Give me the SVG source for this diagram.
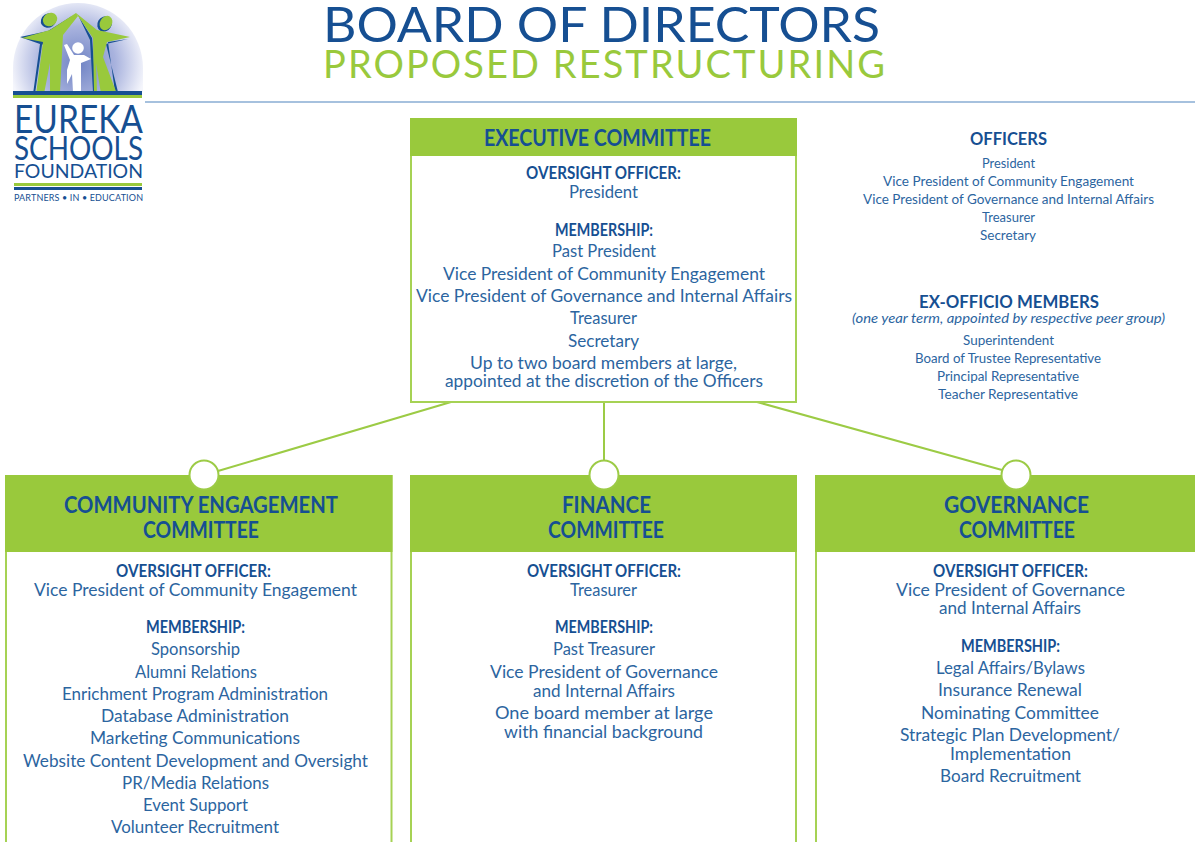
<svg xmlns="http://www.w3.org/2000/svg" width="1195" height="842" viewBox="0 0 1195 842">
<style>
text{font-family:"Lato","Liberation Sans",sans-serif;text-anchor:middle;fill:#2c659f}
.b{font-weight:700;fill:#164f92;font-size:16.500px}
.h{font-weight:700;fill:#164f92;font-size:23px}
.t{font-size:16.500px}
.s{font-size:13.500px}
.box{fill:#fff;stroke:#a6d254;stroke-width:2}
.hd{fill:#99c93c}
.c{fill:none;stroke:#9ccb45;stroke-width:2}
.dot{fill:#fff;stroke:#9ccb45;stroke-width:2}
.l{text-anchor:start;fill:#164f92}
</style>
<defs>
<radialGradient id="dome" gradientUnits="userSpaceOnUse" cx="78" cy="64" r="68">
<stop offset="0" stop-color="#6f83c4"/><stop offset=".55" stop-color="#a9b3de"/><stop offset="1" stop-color="#f5f6fc"/>
</radialGradient>
</defs>
<g id="logo">
<path d="M13 92V68A65 65 0 0 1 143 68V92Z" fill="url(#dome)"/>
<path d="M20 37L48 31L72 16L42 45L35 94H33L40 44Z" fill="#164f92"/>
<path d="M78 15L92 38L96 92H93L90 40Z" fill="#164f92"/>
<path d="M108 42L128 39L106 44L118 92H115Z" fill="#164f92"/>
<ellipse cx="48.500" cy="20.500" rx="8" ry="7" transform="rotate(-35 48.500 20.500)" fill="#164f92"/>
<ellipse cx="104.500" cy="24" rx="7" ry="8" transform="rotate(30 104.500 24)" fill="#164f92"/>
<path d="M22 38L50 30L76 13L78 16L63 35L60 92H50L50 63L44 94H36L43 42Z" fill="#99c93c"/>
<path d="M76 13L97 30L130 37L107 42L103 57L117 94H101L96 63L97 92H94L93 38Z" fill="#99c93c"/>
<ellipse cx="50" cy="19.500" rx="7.500" ry="6.500" transform="rotate(-35 50 19.500)" fill="#99c93c"/>
<ellipse cx="106" cy="23" rx="6" ry="7.500" transform="rotate(30 106 23)" fill="#99c93c"/>
<circle cx="78" cy="48" r="5.800" fill="#fff"/>
<path d="M64 45L67 44L74 55L84 55L91 59L81 63L81 92H73L72 74L67 84L67 70L70 60Z" fill="#fff"/>
<rect x="13" y="91" width="129" height="4" fill="#164f92"/>
<rect x="13" y="95" width="129" height="3" fill="#99c93c"/>
<text class="l" x="14" y="133" font-size="39" textLength="129" lengthAdjust="spacingAndGlyphs">EUREKA</text>
<text class="l" x="14" y="160" font-size="32" textLength="129" lengthAdjust="spacingAndGlyphs">SCHOOLS</text>
<text class="l" x="14" y="178" font-size="20" textLength="129" lengthAdjust="spacingAndGlyphs">FOUNDATION</text>
<rect x="14" y="183" width="128" height="3" fill="#99c93c"/>
<rect x="14" y="187" width="128" height="3" fill="#164f92"/>
<text class="l" x="14" y="201" font-size="9" textLength="129" lengthAdjust="spacing">PARTNERS • IN • EDUCATION</text>
</g>
<g id="title">
<text x="601.500" y="42" font-size="49" style="fill:#164f92" textLength="557" lengthAdjust="spacingAndGlyphs">BOARD OF DIRECTORS</text>
<text x="604" y="78" font-size="38" style="fill:#99c93c" textLength="562" lengthAdjust="spacing">PROPOSED RESTRUCTURING</text>
<rect x="145" y="101.500" width="1050" height="1" fill="#4f83bd"/>
</g>
<g id="connectors">
<path class="c" d="M451 402L218 471M604 402V461M757 402L1002 470"/>
</g>
<g id="executive">
<rect class="box" x="411" y="119" width="385" height="283"/>
<rect class="hd" x="410" y="118" width="387" height="38"/>
<text class="h" x="597.500" y="146" textLength="227" lengthAdjust="spacingAndGlyphs">EXECUTIVE COMMITTEE</text>
<text class="b" x="603.500" y="179" textLength="155" lengthAdjust="spacingAndGlyphs">OVERSIGHT OFFICER:</text>
<text class="t" x="603.500" y="198" textLength="69" lengthAdjust="spacingAndGlyphs">President</text>
<text class="b" x="604" y="236" textLength="98" lengthAdjust="spacingAndGlyphs">MEMBERSHIP:</text>
<text class="t" x="604" y="257" textLength="104" lengthAdjust="spacingAndGlyphs">Past President</text>
<text class="t" x="604" y="280" textLength="322" lengthAdjust="spacingAndGlyphs">Vice President of Community Engagement</text>
<text class="t" x="604" y="302" textLength="376" lengthAdjust="spacingAndGlyphs">Vice President of Governance and Internal Affairs</text>
<text class="t" x="603.500" y="324" textLength="67" lengthAdjust="spacingAndGlyphs">Treasurer</text>
<text class="t" x="603.500" y="347" textLength="71" lengthAdjust="spacingAndGlyphs">Secretary</text>
<text class="t" x="603.500" y="369" textLength="267" lengthAdjust="spacingAndGlyphs">Up to two board members at large,</text>
<text class="t" x="604" y="387" textLength="318" lengthAdjust="spacingAndGlyphs">appointed at the discretion of the Officers</text>
</g>
<g id="officers">
<text class="b" x="1008.500" y="145" textLength="77" lengthAdjust="spacingAndGlyphs">OFFICERS</text>
<text class="s" x="1008.500" y="167.500" textLength="53" lengthAdjust="spacingAndGlyphs">President</text>
<text class="s" x="1008.500" y="186" textLength="251" lengthAdjust="spacingAndGlyphs">Vice President of Community Engagement</text>
<text class="s" x="1008.500" y="204" textLength="291" lengthAdjust="spacingAndGlyphs">Vice President of Governance and Internal Affairs</text>
<text class="s" x="1008.500" y="222" textLength="53" lengthAdjust="spacingAndGlyphs">Treasurer</text>
<text class="s" x="1008" y="240" textLength="56" lengthAdjust="spacingAndGlyphs">Secretary</text>
</g>
<g id="ex-officio">
<text class="b" x="1009" y="308" textLength="180" lengthAdjust="spacingAndGlyphs">EX-OFFICIO MEMBERS</text>
<text class="s" x="1008.500" y="323" font-style="italic" textLength="313" lengthAdjust="spacingAndGlyphs">(one year term, appointed by respective peer group)</text>
<text class="s" x="1008.500" y="345" textLength="91" lengthAdjust="spacingAndGlyphs">Superintendent</text>
<text class="s" x="1008" y="362.500" textLength="186" lengthAdjust="spacingAndGlyphs">Board of Trustee Representative</text>
<text class="s" x="1008" y="381" textLength="142" lengthAdjust="spacingAndGlyphs">Principal Representative</text>
<text class="s" x="1008" y="399" textLength="140" lengthAdjust="spacingAndGlyphs">Teacher Representative</text>
</g>
<g id="community">
<rect class="box" x="6" y="476" width="385.500" height="368"/>
<rect class="hd" x="5" y="475" width="387.500" height="77"/>
<circle class="dot" cx="204" cy="475" r="14.500"/>
<text class="h" x="201" y="513" textLength="274" lengthAdjust="spacingAndGlyphs">COMMUNITY ENGAGEMENT</text>
<text class="h" x="201" y="538" textLength="116" lengthAdjust="spacingAndGlyphs">COMMITTEE</text>
<text class="b" x="193.500" y="577" textLength="155" lengthAdjust="spacingAndGlyphs">OVERSIGHT OFFICER:</text>
<text class="t" x="195.500" y="596" textLength="323" lengthAdjust="spacingAndGlyphs">Vice President of Community Engagement</text>
<text class="b" x="195.500" y="633" textLength="99" lengthAdjust="spacingAndGlyphs">MEMBERSHIP:</text>
<text class="t" x="195.500" y="655" textLength="89" lengthAdjust="spacingAndGlyphs">Sponsorship</text>
<text class="t" x="196" y="678" textLength="122" lengthAdjust="spacingAndGlyphs">Alumni Relations</text>
<text class="t" x="195" y="700" textLength="266" lengthAdjust="spacingAndGlyphs">Enrichment Program Administration</text>
<text class="t" x="195" y="722" textLength="188" lengthAdjust="spacingAndGlyphs">Database Administration</text>
<text class="t" x="195" y="744" textLength="210" lengthAdjust="spacingAndGlyphs">Marketing Communications</text>
<text class="t" x="195.500" y="767" textLength="345" lengthAdjust="spacingAndGlyphs">Website Content Development and Oversight</text>
<text class="t" x="195.500" y="789" textLength="147" lengthAdjust="spacingAndGlyphs">PR/Media Relations</text>
<text class="t" x="195.500" y="811" textLength="105" lengthAdjust="spacingAndGlyphs">Event Support</text>
<text class="t" x="195" y="833" textLength="168" lengthAdjust="spacingAndGlyphs">Volunteer Recruitment</text>
</g>
<g id="finance">
<rect class="box" x="411" y="476" width="385" height="368"/>
<rect class="hd" x="410" y="475" width="387" height="77"/>
<circle class="dot" cx="604" cy="475" r="14.500"/>
<text class="h" x="606.500" y="513" textLength="89" lengthAdjust="spacingAndGlyphs">FINANCE</text>
<text class="h" x="606" y="538" textLength="116" lengthAdjust="spacingAndGlyphs">COMMITTEE</text>
<text class="b" x="604" y="577" textLength="154" lengthAdjust="spacingAndGlyphs">OVERSIGHT OFFICER:</text>
<text class="t" x="603.500" y="596" textLength="67" lengthAdjust="spacingAndGlyphs">Treasurer</text>
<text class="b" x="604" y="633" textLength="98" lengthAdjust="spacingAndGlyphs">MEMBERSHIP:</text>
<text class="t" x="604" y="655" textLength="102" lengthAdjust="spacingAndGlyphs">Past Treasurer</text>
<text class="t" x="604" y="678" textLength="228" lengthAdjust="spacingAndGlyphs">Vice President of Governance</text>
<text class="t" x="604" y="697" textLength="142" lengthAdjust="spacingAndGlyphs">and Internal Affairs</text>
<text class="t" x="604" y="719" textLength="218" lengthAdjust="spacingAndGlyphs">One board member at large</text>
<text class="t" x="603.500" y="738" textLength="199" lengthAdjust="spacingAndGlyphs">with financial background</text>
</g>
<g id="governance">
<rect class="box" x="816" y="476" width="381" height="368"/>
<rect class="hd" x="815" y="475" width="380" height="77"/>
<circle class="dot" cx="1016" cy="475" r="14.500"/>
<text class="h" x="1016.500" y="513" textLength="145" lengthAdjust="spacingAndGlyphs">GOVERNANCE</text>
<text class="h" x="1017" y="538" textLength="116" lengthAdjust="spacingAndGlyphs">COMMITTEE</text>
<text class="b" x="1010.500" y="577" textLength="155" lengthAdjust="spacingAndGlyphs">OVERSIGHT OFFICER:</text>
<text class="t" x="1010.500" y="596" textLength="229" lengthAdjust="spacingAndGlyphs">Vice President of Governance</text>
<text class="t" x="1010" y="614" textLength="142" lengthAdjust="spacingAndGlyphs">and Internal Affairs</text>
<text class="b" x="1010.500" y="652" textLength="99" lengthAdjust="spacingAndGlyphs">MEMBERSHIP:</text>
<text class="t" x="1010.500" y="674" textLength="149" lengthAdjust="spacingAndGlyphs">Legal Affairs/Bylaws</text>
<text class="t" x="1010" y="696" textLength="144" lengthAdjust="spacingAndGlyphs">Insurance Renewal</text>
<text class="t" x="1010" y="719" textLength="178" lengthAdjust="spacingAndGlyphs">Nominating Committee</text>
<text class="t" x="1010" y="741" textLength="220" lengthAdjust="spacingAndGlyphs">Strategic Plan Development/</text>
<text class="t" x="1010.500" y="760" textLength="121" lengthAdjust="spacingAndGlyphs">Implementation</text>
<text class="t" x="1010.500" y="782" textLength="141" lengthAdjust="spacingAndGlyphs">Board Recruitment</text>
</g>
</svg>
